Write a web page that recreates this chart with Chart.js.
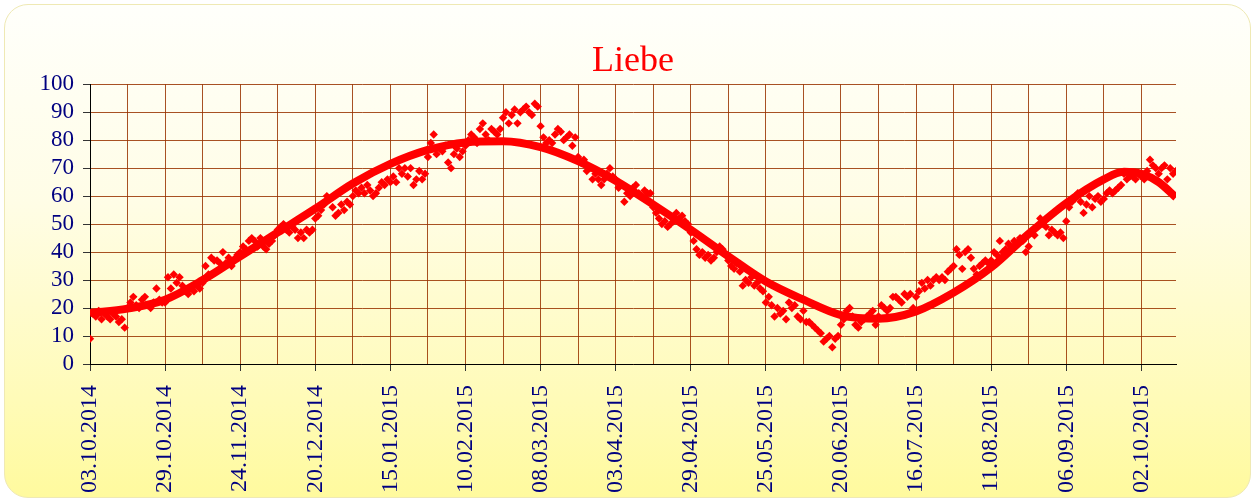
<!DOCTYPE html>
<html>
<head>
<meta charset="utf-8">
<script src="https://cdn.jsdelivr.net/npm/chart.js@4"></script>
<style>
  html, body { margin: 0; padding: 0; background: #fff; }
  #card {
    position: absolute; left: 4px; top: 4px; width: 1245px; height: 492px;
    border: 1px solid #efe9b4; border-radius: 24px;
    background: linear-gradient(to bottom, #fffffb 0%, #fffde6 40%, #fffbb8 80%, #fffa9e 100%);
  }
  #grafico { position: absolute; left: 0; top: 0; }
</style>
</head>
<body>
<div id="card"></div>
<canvas id="grafico" width="1255" height="502"></canvas>
<script>
// labels every 26 days, starting 03.10.2014
const tickLabels = ['03.10.2014', '29.10.2014', '24.11.2014', '20.12.2014', '15.01.2015',
  '10.02.2015', '08.03.2015', '03.04.2015', '29.04.2015', '25.05.2015', '20.06.2015',
  '16.07.2015', '11.08.2015', '06.09.2015', '02.10.2015']

// one value per day, day 0 = 03.10.2014
const dailyValues = [
  9, 18, 17, 19, 16, 18, 17, 16, 18, 17, 15, 16, 13,
  20, 22, 24, 21, 20, 23, 24, 21, 20, 22, 27, 23, 22,
  22, 31, 27, 32, 29, 31, 28, 26, 25, 27, 26, 28, 27,
  29, 35, 32, 38, 37, 37, 36, 40, 36, 38, 35, 37, 39,
  40, 42, 41, 44, 45, 44, 42, 45, 42, 41, 43, 44, 46,
  48, 49, 50, 48, 47, 49, 48, 45, 47, 45, 48, 47, 48,
  52, 53, 55, 57, 60, 59, 56, 53, 54, 57, 55, 58, 57,
  60, 62, 61, 63, 61, 64, 62, 60, 61, 63, 65, 64, 66,
  65, 67, 65, 70, 68, 70, 67, 70, 64, 66, 69, 66, 68,
  74, 79, 82, 75, 77, 76, 78, 72, 70, 75, 77, 74, 76,
  78, 80, 82, 81, 79, 84, 86, 82, 80, 84, 83, 82, 84,
  88, 90, 86, 89, 91, 86, 90, 91, 92, 90, 89, 93, 92,
  85, 81, 79, 80, 79, 82, 84, 83, 80, 81, 82, 78, 81,
  74, 72, 73, 69, 70, 66, 68, 66, 64, 66, 68, 70, 67,
  66, 63, 64, 58, 61, 60, 63, 64, 61, 60, 62, 61, 61,
  56, 54, 52, 50, 51, 49, 50, 51, 54, 52, 53, 51, 50,
  47, 44, 41, 39, 40, 38, 39, 37, 38, 40, 42, 41, 39,
  37, 35, 34, 36, 33, 28, 30, 29, 31, 28, 29, 27, 26,
  22, 24, 21, 17, 20, 18, 19, 16, 22, 20, 21, 17, 16,
  19, 15, 15, 14, 13, 12, 11, 8, 9, 10, 6, 9, 10,
  14, 16, 19, 20, 17, 14, 13, 15, 16, 17, 18, 19, 14,
  17, 21, 20, 19, 20, 24, 24, 23, 22, 25, 24, 25, 20,
  24, 26, 29, 27, 30, 28, 30, 31, 30, 31, 30, 33, 34,
  35, 41, 39, 34, 40, 41, 38, 34, 32, 35, 36, 37, 36,
  37, 40, 39, 44, 40, 41, 43, 42, 44, 43, 45, 44, 40,
  42, 47, 46, 49, 52, 50, 49, 46, 48, 47, 46, 47, 45,
  51, 56, 58, 59, 61, 58, 54, 57, 60, 56, 59, 60, 58,
  59, 61, 62, 61, 62, 63, 64, 68, 66, 67, 67, 66, 68,
  67, 66, 69, 73, 71, 70, 68, 70, 71, 66, 70, 68, 69
]

// trend curve
const trendDays = [0, 13, 26, 39, 52, 65, 78, 91, 104, 117, 130, 143, 156, 169, 182, 195, 208,
  221, 234, 247, 260, 273, 286, 299, 312, 325, 338, 351, 358, 364, 370, 376]
const trendValues = [18.2, 19.8, 23, 30, 38.5, 47, 55.5, 64.5, 71.5, 76.5, 79.2, 79.6, 77.5,
  72.5, 65.5, 57, 48, 38.5, 29.5, 23, 17.5, 16.2, 18.8, 25.5, 34.5, 46.5, 57.5, 66, 68.7, 68, 65, 59.5]

const yTicks = { min: 0, max: 100, step: 10 }

const azul = '#000080'
const vermelho = '#ff0000'
const grade = 'rgba(153, 51, 0, 0.85)'

const pontos = dailyValues.map((v, i) => ({ x: i, y: v }))
const tendencia = trendDays.map((d, i) => ({ x: d, y: trendValues[i] }))

const ctx = document.getElementById('grafico')
const grafico = new Chart(ctx, {
  type: 'scatter',
  data: {
    datasets: [{
      label: 'Liebe',
      data: pontos,
      pointStyle: 'rectRot',
      pointRadius: 4.2,
      backgroundColor: vermelho,
      borderColor: vermelho,
      borderWidth: 0
    }, {
      label: 'Trend',
      data: tendencia,
      showLine: true,
      pointRadius: 0,
      borderColor: vermelho,
      borderWidth: 8,
      cubicInterpolationMode: 'monotone'
    }]
  },
  options: {
    responsive: false,
    animation: false,
    devicePixelRatio: 1,
    layout: { padding: { left: 0, right: 79, top: 0, bottom: 0 } },
    plugins: {
      legend: { display: false },
      tooltip: { enabled: false },
      title: {
        display: true,
        fullSize: false,
        text: 'Liebe',
        color: vermelho,
        font: { family: 'Liberation Serif', size: 36, weight: 'normal' },
        padding: { top: 40, bottom: 1 }
      }
    },
    scales: {
      x: {
        type: 'linear',
        min: 0,
        max: 376,
        afterFit: (s) => { s.height = 138 },
        border: { color: '#000', width: 1 },
        grid: {
          color: grade,
          tickLength: 7,
          tickColor: (c) => (c.tick && c.tick.value % 26 === 0) ? '#333' : 'rgba(0,0,0,0)'
        },
        ticks: {
          stepSize: 13,
          includeBounds: false,
          autoSkip: false,
          maxRotation: 90,
          minRotation: 90,
          padding: 14,
          color: azul,
          font: { family: 'Liberation Serif', size: 24 },
          callback: (v) => v % 26 === 0 ? tickLabels[v / 26] : ''
        }
      },
      y: {
        min: yTicks.min,
        max: yTicks.max,
        afterFit: (s) => { s.width = 90 },
        border: { color: '#000', width: 1 },
        grid: { color: grade, tickLength: 7, tickColor: '#333' },
        ticks: {
          stepSize: yTicks.step,
          autoSkip: false,
          padding: 9,
          color: azul,
          font: { family: 'Liberation Serif', size: 23 }
        }
      }
    }
  }
})
</script>
</body>
</html>
